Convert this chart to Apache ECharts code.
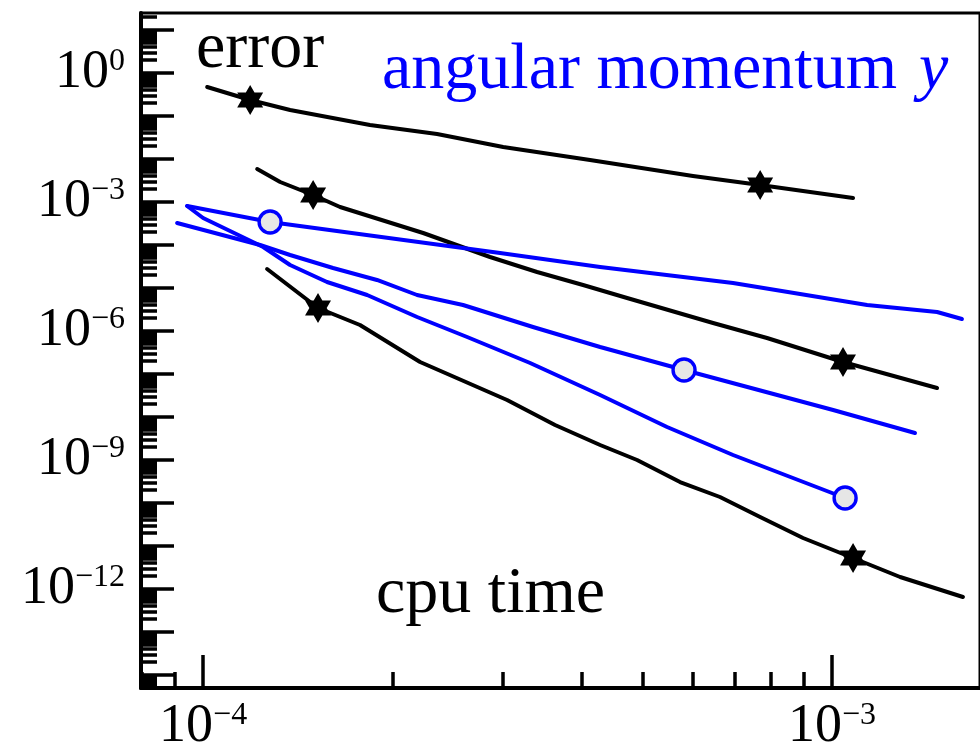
<!DOCTYPE html>
<html>
<head>
<meta charset="utf-8">
<script src="https://cdn.jsdelivr.net/npm/echarts@6/dist/echarts.min.js"></script>
<style>
  html, body { margin: 0; padding: 0; background: #fff; }
  #chart { width: 980px; height: 748px; }
</style>
</head>
<body>
<div id="chart"></div>
<script>
// Convergence data: error versus cpu time (log-log)

// black curves (error)
const cpuBlack1 = [1.015e-4, 1.188e-4, 1.375e-4, 1.842e-4, 2.355e-4, 3.0e-4, 4.123e-4, 6.01e-4, 7.686e-4, 1.080e-3];
const errBlack1 = [0.4725, 0.2356, 0.1379, 0.06176, 0.03814, 0.01901, 0.009478, 0.004024, 0.002485, 0.001239];
const markBlack1 = [1, 8];

const cpuBlack2 = [1.219e-4, 1.326e-4, 1.496e-4, 1.651e-4, 2.238e-4, 2.859e-4, 3.396e-4, 4.019e-4, 4.722e-4, 6.469e-4, 7.882e-4, 1.041e-3, 1.469e-3];
const errBlack2 = [5.853e-3, 2.918e-3, 1.455e-3, 7.65e-4, 1.901e-4, 5.259e-5, 2.356e-5, 1.174e-5, 5.853e-6, 1.535e-6, 6.874e-7, 1.901e-7, 4.725e-8];
const markBlack2 = [2, 11];

const cpuBlack3 = [1.264e-4, 1.523e-4, 1.776e-4, 2.213e-4, 3.043e-4, 3.627e-4, 4.278e-4, 4.898e-4, 5.732e-4, 6.635e-4, 7.686e-4, 8.993e-4, 1.080e-3, 1.283e-3, 1.615e-3];
const errBlack3 = [2.766e-5, 3.426e-6, 1.379e-6, 1.901e-7, 2.485e-8, 6.516e-9, 2.233e-9, 1.0e-9, 3.078e-10, 1.379e-10, 4.725e-11, 1.535e-11, 5.259e-12, 1.901e-12, 6.516e-13];
const markBlack3 = [1, 12];

// blue curves (angular momentum y)
const cpuBlue1 = [9.432e-5, 1.278e-4, 2.966e-4, 4.278e-4, 6.96e-4, 1.137e-3, 1.469e-3, 1.609e-3];
const errBlue1 = [8.072e-4, 3.426e-4, 6.516e-5, 3.078e-5, 1.307e-5, 4.024e-6, 2.766e-6, 1.901e-6];
const markBlue1 = [1];

const cpuBlue2 = [9.092e-5, 1.232e-4, 1.375e-4, 1.609e-4, 1.890e-4, 2.189e-4, 2.590e-4, 3.346e-4, 4.278e-4, 5.817e-4, 1.004e-3, 1.355e-3];
const errBlue2 = [3.248e-4, 1.0e-4, 5.853e-5, 2.918e-5, 1.535e-5, 6.874e-6, 4.024e-6, 1.239e-6, 4.246e-7, 1.239e-7, 1.455e-8, 4.246e-9];
const markBlue2 = [9];

const cpuBlue3 = [9.432e-5, 1.0e-4, 1.246e-4, 1.375e-4, 1.574e-4, 1.823e-4, 2.189e-4, 2.629e-4, 3.311e-4, 4.278e-4, 5.466e-4, 6.96e-4, 1.049e-3];
const errBlue3 = [8.072e-4, 4.246e-4, 8.985e-5, 3.426e-5, 1.379e-5, 6.874e-6, 2.117e-6, 7.253e-7, 1.802e-7, 3.248e-8, 5.853e-9, 1.307e-9, 1.307e-10];
const markBlue3 = [12];

// axis ranges and ticks
const xRange = [7.966e-5, 1.719e-3];
const yRange = [4.985e-15, 24.85];
const xLabelTicks = [1e-4, 1e-3];
const yLabelTicks = [1e-12, 1e-9, 1e-6, 1e-3, 1e0];

const SERIF = "'Liberation Serif', 'Times New Roman', serif";
const BLUE = '#0000ff';

function decades(lo, hi) {
  const out = [];
  for (let e = Math.ceil(Math.log10(lo) - 1e-9); e <= Math.floor(Math.log10(hi) + 1e-9); e++) out.push(Number('1e' + e));
  return out;
}
function minorTicks(lo, hi) {
  const out = [];
  for (let e = Math.floor(Math.log10(lo)) - 1; e <= Math.ceil(Math.log10(hi)); e++) {
    for (let k = 2; k <= 9; k++) {
      const v = Number(k + 'e' + e);
      if (v >= lo && v <= hi) out.push(v);
    }
  }
  return out;
}
function powLabel(v) {
  const e = Math.round(Math.log10(v));
  const s = e < 0 ? '\u2212' + (-e) : String(e);
  return '{b|10}{e|' + s + '}';
}
const labelRich = {
  b: { fontFamily: SERIF, fontSize: 54, lineHeight: 54, color: '#000' },
  e: { fontFamily: SERIF, fontSize: 32, lineHeight: 32, color: '#000', verticalAlign: 'top' }
};

const STAR = 'path://M0,-1 L0.2887,-0.5 L0.866,-0.5 L0.5774,0 L0.866,0.5 L0.2887,0.5 L0,1 L-0.2887,0.5 L-0.866,0.5 L-0.5774,0 L-0.866,-0.5 L-0.2887,-0.5 Z';

function buildSeries(name, xs, ys, marks, color, marker) {
  const data = xs.map((x, i) => {
    const item = { value: [x, ys[i]] };
    if (marks.indexOf(i) < 0) item.symbol = 'none';
    return item;
  });
  const s = {
    name: name,
    type: 'line',
    data: data,
    xAxisIndex: 0,
    yAxisIndex: 0,
    showSymbol: true,
    lineStyle: { color: color, width: 4, cap: 'round', join: 'round' },
    z: 3
  };
  if (marker === 'star') {
    s.symbol = STAR;
    s.symbolSize = 30;
    s.symbolKeepAspect = true;
    s.itemStyle = { color: '#000', borderWidth: 0 };
  } else {
    s.symbol = 'circle';
    s.symbolSize = 22;
    s.itemStyle = { color: '#e6e6e6', borderColor: BLUE, borderWidth: 3.4 };
  }
  return s;
}

const chart = echarts.init(document.getElementById('chart'), null, { renderer: 'canvas' });

const axisCommon = { type: 'log', logBase: 10, splitLine: { show: false } };

chart.setOption({
  animation: false,
  backgroundColor: '#fff',
  grid: {
    left: 141, top: 13, right: 0, bottom: 60,
    outerBoundsMode: 'none',
    containLabel: false,
    show: true, borderColor: '#000', borderWidth: 3, backgroundColor: 'transparent'
  },
  xAxis: [
    Object.assign({}, axisCommon, {
      position: 'bottom',
      min: xRange[0], max: xRange[1],
      axisLine: { show: true, lineStyle: { color: '#000', width: 4 } },
      axisTick: { show: true, inside: true, length: 33, lineStyle: { color: '#000', width: 3.5 }, customValues: decades(xRange[0], xRange[1]) },
      axisLabel: { show: true, margin: 12, customValues: xLabelTicks, formatter: powLabel, rich: labelRich }
    }),
    Object.assign({}, axisCommon, {
      position: 'bottom',
      min: xRange[0], max: xRange[1],
      axisLine: { show: false },
      axisTick: { show: true, inside: true, length: 16, lineStyle: { color: '#000', width: 3.5 }, customValues: minorTicks(xRange[0], xRange[1]) },
      axisLabel: { show: false }
    })
  ],
  yAxis: [
    Object.assign({}, axisCommon, {
      position: 'left',
      min: yRange[0], max: yRange[1],
      axisLine: { show: true, lineStyle: { color: '#000', width: 4 } },
      axisTick: { show: true, inside: true, length: 33, lineStyle: { color: '#000', width: 3.5 }, customValues: decades(yRange[0], yRange[1]) },
      axisLabel: { show: true, margin: 16, customValues: yLabelTicks, formatter: powLabel, rich: labelRich }
    }),
    Object.assign({}, axisCommon, {
      position: 'left',
      offset: 0,
      min: yRange[0], max: yRange[1],
      axisLine: { show: false },
      axisTick: { show: true, inside: true, length: 16, lineStyle: { color: '#000', width: 3.5 }, customValues: minorTicks(yRange[0], yRange[1]) },
      axisLabel: { show: false }
    })
  ],
  series: [
    buildSeries('black 1', cpuBlack1, errBlack1, markBlack1, '#000', 'star'),
    buildSeries('black 2', cpuBlack2, errBlack2, markBlack2, '#000', 'star'),
    buildSeries('black 3', cpuBlack3, errBlack3, markBlack3, '#000', 'star'),
    buildSeries('blue 1', cpuBlue1, errBlue1, markBlue1, BLUE, 'circle'),
    buildSeries('blue 2', cpuBlue2, errBlue2, markBlue2, BLUE, 'circle'),
    buildSeries('blue 3', cpuBlue3, errBlue3, markBlue3, BLUE, 'circle')
  ],
  graphic: [
    {
      type: 'text', x: 196, y: 50, z: 10,
      style: { text: 'error', fill: '#000', font: '66px ' + SERIF, verticalAlign: 'middle' }
    },
    {
      type: 'text', x: 382, y: 71, z: 10,
      style: {
        text: '{a|angular momentum}{y|y}',
        fill: BLUE,
        verticalAlign: 'middle',
        rich: {
          a: { fontFamily: SERIF, fontSize: 66, fill: BLUE },
          y: { fontFamily: SERIF, fontSize: 66, fontStyle: 'italic', fill: BLUE, padding: [0, 0, 0, 22] }
        }
      }
    },
    {
      type: 'text', x: 376, y: 595, z: 10,
      style: { text: 'cpu time', fill: '#000', font: '66px ' + SERIF, verticalAlign: 'middle' }
    }
  ]
});
</script>
</body>
</html>
